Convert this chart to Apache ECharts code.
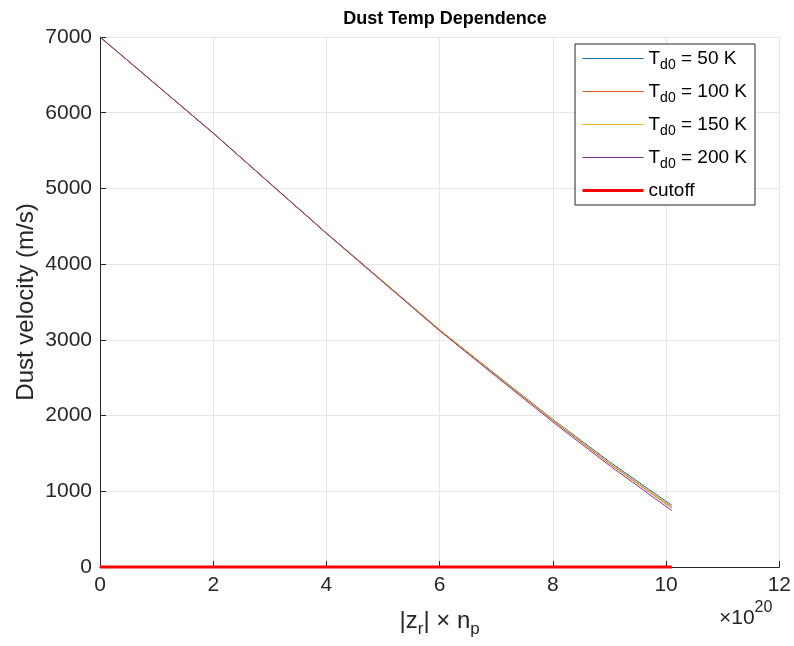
<!DOCTYPE html>
<html>
<head>
<meta charset="utf-8">
<script src="https://cdn.jsdelivr.net/npm/echarts@6/dist/echarts.min.js"></script>
<style>html,body{margin:0;padding:0;background:#fff}#c{width:794px;height:646px}</style>
</head>
<body>
<div id="c"></div>
<script>
var xVals = [0, 2, 4, 6, 7, 8, 9, 10.1];
var v50  = [7000, 5730, 4410, 3130, 2540, 1950, 1390, 815];
var v100 = [7000, 5730, 4410, 3130, 2530, 1935, 1365, 780];
var v150 = [7000, 5730, 4410, 3135, 2535, 1945, 1375, 795];
var v200 = [7000, 5730, 4405, 3120, 2515, 1915, 1340, 745];
var cutoffX = [0, 10.1];
var cutoffY = [0, 0];
var seriesNames = ['T_d0 = 50 K', 'T_d0 = 100 K', 'T_d0 = 150 K', 'T_d0 = 200 K', 'cutoff'];
var xTicks = [0, 2, 4, 6, 8, 10, 12];
var yTicks = [0, 1000, 2000, 3000, 4000, 5000, 6000, 7000];

function pairs(xs, ys) { return xs.map(function (x, i) { return [x, ys[i]]; }); }
var colors = ['#0072BD', '#D95319', '#EDB120', '#7E2F8E', '#FF0000'];
var widths = [1, 1, 1, 1, 3];
var allVals = [v50, v100, v150, v200];

var chart = echarts.init(document.getElementById('c'), null, {renderer: 'canvas'});
var series = allVals.map(function (vals, i) {
  return {
    name: seriesNames[i], type: 'line', data: pairs(xVals, vals),
    symbol: 'none', lineStyle: {width: widths[i], color: colors[i]}, itemStyle: {color: colors[i]},
    animation: false
  };
});
series.push({
  name: seriesNames[4], type: 'line', data: pairs(cutoffX, cutoffY), clip: false,
  symbol: 'none', lineStyle: {width: widths[4], color: colors[4]}, itemStyle: {color: colors[4]},
  animation: false
});

var font = 'Helvetica, Arial, "Liberation Sans", sans-serif';
chart.setOption({
  animation: false,
  textStyle: {fontFamily: font},
  title: {
    text: 'Dust Temp Dependence', left: 440, top: 5, textAlign: 'center',
    textStyle: {fontSize: 18, fontWeight: 'bold', color: '#000', fontFamily: font}
  },
  grid: {left: 100, right: 14, top: 37, bottom: 79, containLabel: false},
  legend: {
    orient: 'vertical', right: 39, top: 44,
    backgroundColor: '#fff', borderColor: '#262626', borderWidth: 1, borderRadius: 0,
    padding: [5, 8, 5, 6], itemWidth: 61, itemHeight: 14, itemGap: 10,
    itemStyle: {opacity: 0},
    data: seriesNames.map(function (n, i) {
      return {name: n, lineStyle: {width: widths[i], color: colors[i]}};
    }),
    formatter: function (n) {
      if (n.indexOf('T_d0') === 0) return '{m|T}{s|d0}{m|' + n.slice(4) + '}';
      return '{m|' + n + '}';
    },
    textStyle: {
      color: '#000', fontSize: 19, fontFamily: font,
      rich: {
        m: {fontSize: 19, color: '#000', lineHeight: 23, fontFamily: font},
        s: {fontSize: 14, color: '#000', padding: [13, 0, 0, 0], fontFamily: font}
      }
    }
  },
  xAxis: {
    type: 'value', min: 0, max: 12, interval: 2,
    name: '{m||z}{s|r}{m|| × n}{s|p}', nameLocation: 'middle', nameGap: 37,
    nameMoveOverlap: false,
    nameTextStyle: {
      color: '#262626', fontSize: 24,
      rich: {
        m: {fontSize: 24, color: '#262626', fontFamily: font},
        s: {fontSize: 17, color: '#262626', padding: [17, 0, 0, 0], fontFamily: font}
      }
    },
    axisLine: {show: true, lineStyle: {color: '#262626', width: 1}},
    axisTick: {show: true, inside: true, length: 6, lineStyle: {color: '#262626'}},
    axisLabel: {color: '#262626', fontSize: 21, margin: 8, fontFamily: font,
      formatter: function (v) { return String(v); }},
    splitLine: {show: true, lineStyle: {color: '#e6e6e6', width: 1}}
  },
  yAxis: {
    type: 'value', min: 0, max: 7000, interval: 1000,
    name: 'Dust velocity (m/s)', nameLocation: 'middle', nameGap: 62,
    nameMoveOverlap: false,
    nameTextStyle: {color: '#262626', fontSize: 24, fontFamily: font},
    axisLine: {show: true, lineStyle: {color: '#262626', width: 1}},
    axisTick: {show: true, inside: true, length: 6, lineStyle: {color: '#262626'}},
    axisLabel: {color: '#262626', fontSize: 21, margin: 8, fontFamily: font,
      formatter: function (v) { return String(v); }},
    splitLine: {show: true, lineStyle: {color: '#e6e6e6', width: 1}}
  },
  graphic: [{
    type: 'text', left: 719, top: 600,
    style: {
      text: '{m|×10}{p|20}',
      rich: {
        m: {fontSize: 21, fill: '#262626', fontFamily: font, padding: [10, 0, 0, 0]},
        p: {fontSize: 16, fill: '#262626', fontFamily: font, padding: [0, 0, 10, 0]}
      }
    }
  }],
  series: series
});
</script>
</body>
</html>
